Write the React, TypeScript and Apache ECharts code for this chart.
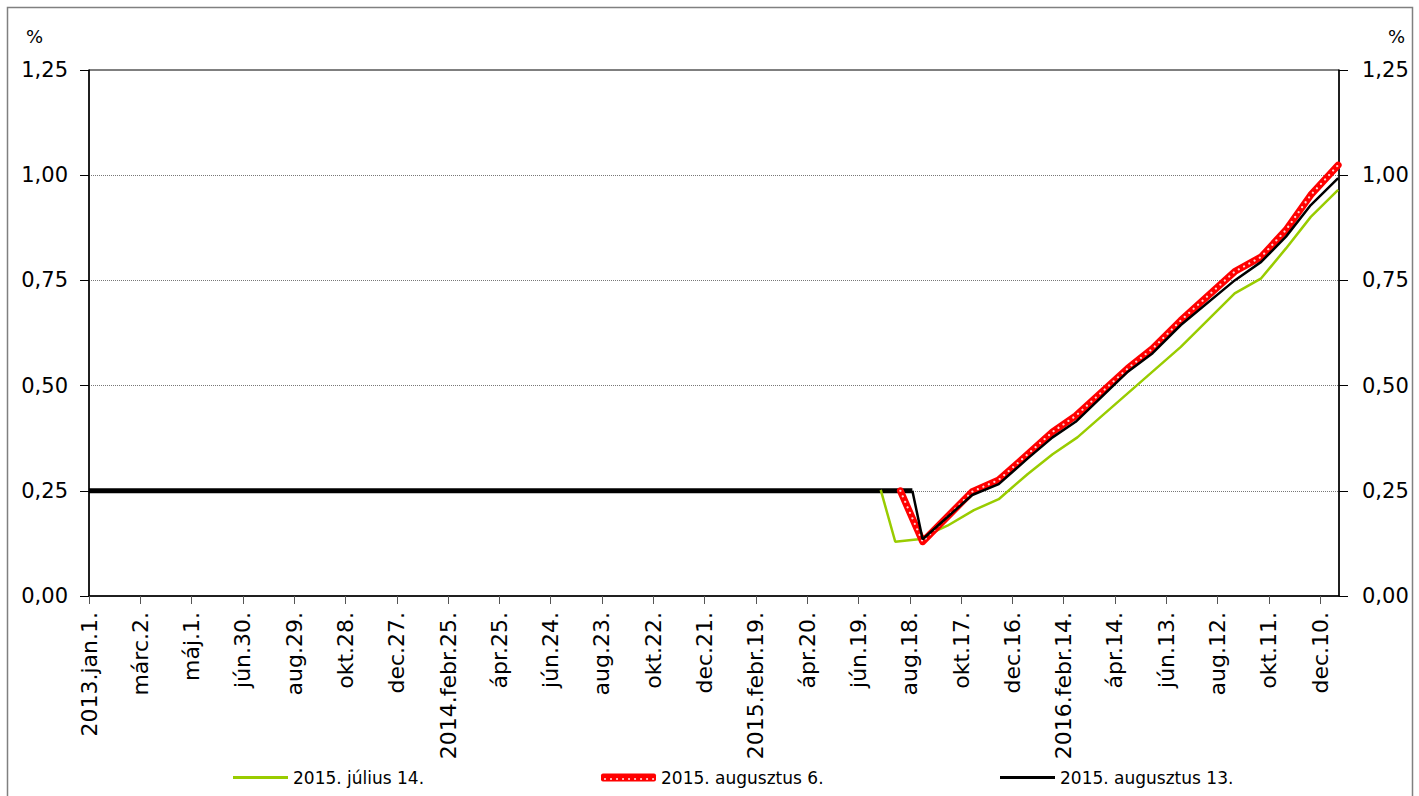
import React, { useEffect, useRef } from "react";
import * as echarts from "echarts";

const xLabels = [
  "2013.jan.1.", "márc.2.", "máj.1.", "jún.30.", "aug.29.", "okt.28.", "dec.27.",
  "2014.febr.25.", "ápr.25.", "jún.24.", "aug.23.", "okt.22.", "dec.21.",
  "2015.febr.19.", "ápr.20.", "jún.19.", "aug.18.", "okt.17.", "dec.16.",
  "2016.febr.14.", "ápr.14.", "jún.13.", "aug.12.", "okt.11.", "dec.10.",
];
const yTicks = [0, 0.25, 0.5, 0.75, 1.0, 1.25];

// day index from 2013-01-01
const histDays = [0, 963];
const histVals = [0.25, 0.25];

const julDays = [926, 943, 970, 1004, 1035, 1064, 1098, 1127, 1156, 1277, 1340, 1371, 1400, 1429, 1461];
const julVals = [0.252, 0.129, 0.135, 0.167, 0.204, 0.23, 0.29, 0.337, 0.377, 0.592, 0.719, 0.755, 0.826, 0.901, 0.965];

const aug6Days = [949, 975, 1033, 1064, 1098, 1127, 1154, 1215, 1244, 1277, 1340, 1371, 1400, 1429, 1461];
const aug6Vals = [0.25, 0.129, 0.248, 0.276, 0.337, 0.39, 0.428, 0.541, 0.588, 0.655, 0.771, 0.806, 0.87, 0.953, 1.024];

const aug13Days = [963, 975, 1033, 1064, 1098, 1127, 1154, 1215, 1244, 1277, 1340, 1371, 1400, 1429, 1461];
const aug13Vals = [0.25, 0.135, 0.24, 0.266, 0.327, 0.377, 0.414, 0.533, 0.577, 0.644, 0.75, 0.794, 0.854, 0.929, 0.993];

const seriesNames = ["2015. július 14.", "2015. augusztus 6.", "2015. augusztus 13."];

const FONT = "DejaVu Sans";

const zip = (a: number[], b: number[]) => a.map((d, i) => [d, b[i]]);
const fmtY = (v: number) => v.toFixed(2).replace(".", ",");

export default function App() {
  const ref = useRef<HTMLDivElement>(null);
  useEffect(() => {
    if (!ref.current) return;
    const chart = echarts.init(ref.current, null, { renderer: "svg" });
    const yAxisBase = (pos: "left" | "right", margin: number) => ({
      type: "value",
      position: pos,
      min: 0,
      max: 1.25,
      interval: 0.25,
      axisLine: { show: true, lineStyle: { color: "#000", width: 1.5 } },
      axisTick: { show: true, length: 9, lineStyle: { color: "#000", width: 1 } },
      axisLabel: {
        margin,
        fontFamily: FONT,
        fontSize: 21,
        color: "#000",
        formatter: (v: number) => (yTicks.includes(v) ? fmtY(v) : ""),
      },
      splitLine: pos === "left"
        ? { show: true, showMaxLine: false, lineStyle: { color: "#777", type: [1, 1], width: 1 } }
        : { show: false },
    });
    const legendBase = {
      padding: 0,
      itemWidth: 55,
      selectedMode: false,
      textStyle: { fontFamily: FONT, fontSize: 17, color: "#000" },
    };
    chart.setOption({
      animation: false,
      backgroundColor: "#fff",
      grid: { left: 89, right: 80, top: 70, bottom: 200, show: true, borderColor: "#000", borderWidth: 1 },
      xAxis: {
        type: "value",
        min: 0,
        max: 1462,
        interval: 60,
        axisLine: { show: true, onZero: false, lineStyle: { color: "#000", width: 1.5 } },
        axisTick: { show: true, length: 8, lineStyle: { color: "#555", width: 1 } },
        splitLine: { show: false },
        axisLabel: {
          rotate: 90,
          margin: 16,
          fontFamily: FONT,
          fontSize: 22,
          color: "#000",
          showMaxLabel: false,
          formatter: (v: number) => {
            const i = Math.round(v / 60);
            return v % 60 === 0 && xLabels[i] ? xLabels[i] : "";
          },
        },
      },
      yAxis: [yAxisBase("left", 21), yAxisBase("right", 23)],
      legend: [
        { ...legendBase, data: [{ name: seriesNames[0], icon: "rect" }], left: 233, top: 769, itemHeight: 3 },
        { ...legendBase, data: [{ name: seriesNames[1], icon: "roundRect" }], left: 601, top: 769, itemHeight: 8 },
        { ...legendBase, data: [{ name: seriesNames[2], icon: "rect" }], left: 1000, top: 769, itemHeight: 3 },
      ],
      series: [
        {
          name: "hist",
          type: "line",
          data: zip(histDays, histVals),
          symbol: "none",
          z: 2,
          lineStyle: { color: "#000", width: 5 },
        },
        {
          name: seriesNames[0],
          type: "line",
          data: zip(julDays, julVals),
          symbol: "none",
          z: 3,
          color: "#99cc00",
          lineStyle: { color: "#99cc00", width: 2.5 },
        },
        {
          name: seriesNames[1],
          type: "line",
          data: zip(aug6Days, aug6Vals),
          symbol: "none",
          z: 4,
          color: "#ff0000",
          lineStyle: { color: "#ff0000", width: 7, cap: "round", join: "round" },
        },
        {
          name: "dots",
          type: "line",
          data: zip(aug6Days, aug6Vals),
          symbol: "none",
          z: 5,
          silent: true,
          lineStyle: { color: "rgba(255,225,225,0.95)", width: 2.2, type: [0.01, 6], cap: "round" },
        },
        {
          name: seriesNames[2],
          type: "line",
          data: zip(aug13Days, aug13Vals),
          symbol: "none",
          z: 6,
          color: "#000",
          lineStyle: { color: "#000", width: 2.5 },
        },
      ],
      graphic: [
        {
          type: "rect",
          shape: { x: 7.5, y: 7.5, width: 1405, height: 820 },
          style: { fill: "none", stroke: "#808080", lineWidth: 1.5 },
          silent: true,
        },
        {
          type: "text",
          x: 26,
          y: 27,
          style: { text: "%", fontFamily: FONT, fontSize: 18, fill: "#000" },
        },
        {
          type: "text",
          x: 1388,
          y: 27,
          style: { text: "%", fontFamily: FONT, fontSize: 18, fill: "#000" },
        },
        {
          type: "line",
          shape: { x1: 605, y1: 779, x2: 654, y2: 779 },
          style: { stroke: "rgba(255,225,225,0.95)", lineWidth: 2.2, lineDash: [0.01, 6], lineCap: "round" },
          silent: true,
          z: 100,
        },
      ],
    });
    return () => chart.dispose();
  }, []);
  return (
    <div
      ref={ref}
      style={{ position: "fixed", left: 0, top: 0, width: 1419, height: 796, background: "#fff" }}
    />
  );
}
